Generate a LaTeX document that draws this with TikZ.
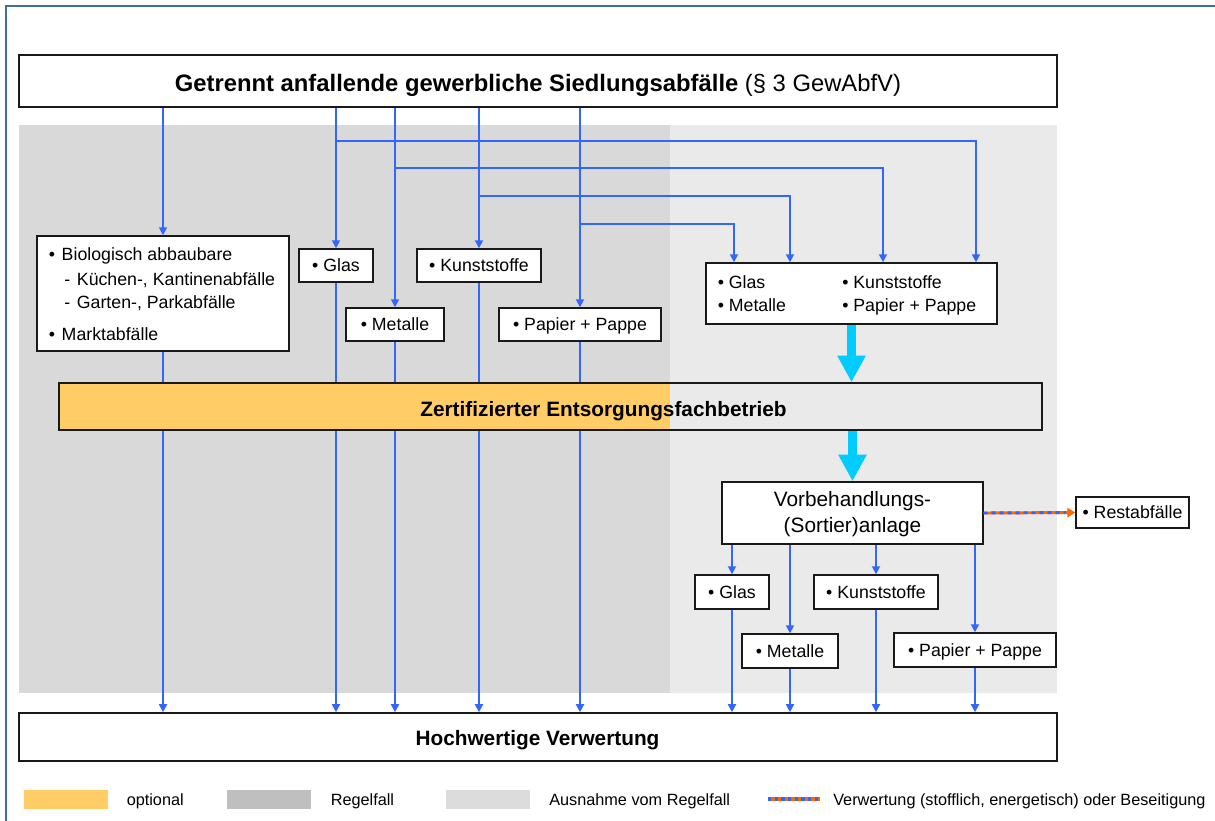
\documentclass[tikz,border=0pt]{standalone}
\usepackage{fontspec}
\setmainfont{Liberation Sans}
\usetikzlibrary{arrows.meta,fit}

\definecolor{framecol}{HTML}{41708C}
\definecolor{flowblue}{HTML}{3366FF}
\definecolor{feedcyan}{HTML}{00CCFF}
\definecolor{optfill}{HTML}{FFCC66}
\definecolor{rulebg}{HTML}{D9D9D9}
\definecolor{exceptbg}{HTML}{EAEAEA}
\definecolor{rulekey}{HTML}{BFBFBF}
\definecolor{exceptkey}{HTML}{DCDCDC}
\definecolor{restorange}{HTML}{FF6600}

\newcommand\fsTitle{\fontsize{17.85}{21}\selectfont}
\newcommand\fsBar{\fontsize{15.6}{19.5}\selectfont}
\newcommand\fsBody{\fontsize{13.3}{16}\selectfont}
\newcommand\fsKey{\fontsize{12.2}{14.5}\selectfont}

\pgfdeclarelayer{bg}
\pgfdeclarelayer{lines}
\pgfsetlayers{bg,lines,main}

\begin{document}
\begin{tikzpicture}[x=0.75pt,y=-0.75pt,
  box/.style={draw=black!90, line width=1.1pt, fill=white, inner sep=0pt},
  bigbox/.style={draw=black!90, line width=1.2pt, fill=white, inner sep=0pt},
  txt/.style={inner sep=0pt, font=\fsBody},
  lbl/.style={inner sep=0pt, font=\fsBody, text height=9.5pt, text depth=0pt},
  keytxt/.style={inner sep=0pt, font=\fsKey, anchor=base west},
  flow/.style={draw=flowblue, line width=1.35pt, -{Triangle[length=6pt,width=6pt]}},
  bigflow/.style={draw=feedcyan, line width=6.3pt, -{Triangle[length=20pt,width=20pt]}},
  restline/.style={draw=restorange, line width=2.2pt, -{Triangle[length=6pt,width=7pt]}},
  reststripe/.style={draw=flowblue, line width=2.2pt, dash pattern=on 3pt off 3pt}
]
\useasboundingbox (0,0) rectangle (1215,821);

% frame and shaded zones
\begin{pgfonlayer}{bg}
  \draw[framecol, line width=1.6pt] (6,821) -- (6,6) -- (1215,6);
  \fill[rulebg] (19,125) rectangle (670,693);
  \fill[exceptbg] (670,125) rectangle (1057,693);
\end{pgfonlayer}

% source and target
\node[bigbox, fit={(19,55)(1057,107)}] (title) {};
\node[inner sep=0pt, font=\fsTitle, anchor=base] (titletext) at (538,91.7)
  {\textbf{Getrennt anfallende gewerbliche Siedlungsabfälle} (§ 3 GewAbfV)};
\node[bigbox, fit={(19,713)(1057,761)}] (hoch) {};
\node[inner sep=0pt, font=\fsBar\bfseries, anchor=base] (hochtext) at (537.5,745) {Hochwertige Verwertung};

% separately collected fractions
\node[box, fit={(37,236)(289,351)}] (bio) {};
\node[txt, anchor=base west] (bio1) at (48.5,260) {\makebox[9.75pt][l]{•}Biologisch abbaubare};
\node[txt, anchor=base west] (bio2) at (64,285) {\makebox[9.5pt][l]{-}Küchen-, Kantinenabfälle};
\node[txt, anchor=base west] (bio3) at (64,308.3) {\makebox[9.5pt][l]{-}Garten-, Parkabfälle};
\node[txt, anchor=base west] (bio4) at (48.5,340.7) {\makebox[9.75pt][l]{•}Marktabfälle};

\node[box, fit={(299,249)(373,282)}] (glasA) {};
\node[lbl] (glasAt) at (glasA) {• Glas};
\node[box, fit={(346,308)(444,341)}] (metA) {};
\node[lbl] (metAt) at (metA) {• Metalle};
\node[box, fit={(417,249)(541,282)}] (kunA) {};
\node[lbl] (kunAt) at (kunA) {• Kunststoffe};
\node[box, fit={(499,308)(661,341)}] (papA) {};
\node[lbl] (papAt) at (papA) {• Papier + Pappe};

% mixed collection
\node[box, fit={(706,263)(997,324)}] (mixA) {};
\node[txt, anchor=base west] (mix1) at (717.5,288.3) {• Glas};
\node[txt, anchor=base west] (mix2) at (717.5,311.7) {• Metalle};
\node[txt, anchor=base west] (mix3) at (842,288.3) {• Kunststoffe};
\node[txt, anchor=base west] (mix4) at (842,311.7) {• Papier + Pappe};

% certified disposal company
\fill[optfill] (59,383) rectangle (670,430);
\node[draw=black!90, line width=1.1pt, inner sep=0pt, fit={(59,383)(1042,430)}] (bar) {};
\node[inner sep=0pt, font=\fsBar\bfseries, anchor=base] (bartext) at (603.5,416.5) {Zertifizierter Entsorgungsfachbetrieb};

% sorting plant and its outputs
\node[box, fit={(722,482)(983,544)}] (vor) {};
\node[inner sep=0pt, font=\fsBar, anchor=base] (vor1) at (852.5,506.7) {Vorbehandlungs-};
\node[inner sep=0pt, font=\fsBar, anchor=base] (vor2) at (852.5,532.7) {(Sortier)anlage};
\node[box, fit={(1076,497)(1189,528)}] (rest) {};
\node[lbl] (restt) at (rest) {• Restabfälle};

\node[box, fit={(695,575)(769,609)}] (glasB) {};
\node[lbl] (glasBt) at (glasB) {• Glas};
\node[box, fit={(742,634)(838,668)}] (metB) {};
\node[lbl] (metBt) at (metB) {• Metalle};
\node[box, fit={(814,575)(938,609)}] (kunB) {};
\node[lbl] (kunBt) at (kunB) {• Kunststoffe};
\node[box, fit={(894,633)(1056,667)}] (papB) {};
\node[lbl] (papBt) at (papB) {• Papier + Pappe};

% branch rows and columns of the mixed box
\coordinate (r1) at (0,141);
\coordinate (r2) at (0,168);
\coordinate (r3) at (0,196);
\coordinate (r4) at (0,224);
\coordinate (cg) at (734,0);
\coordinate (cm) at (790,0);
\coordinate (ck) at (883,0);
\coordinate (cp) at (976,0);

\begin{pgfonlayer}{lines}
  \foreach \n in {bio,glasA,metA,kunA,papA} {
    \draw[flow] (\n.north |- title.south) -- (\n.north);
    \draw[flow] (\n.south) -- (\n.south |- hoch.north);
  }
  \draw[flow] (glasA.north |- r1) -| (mixA.north -| cp);
  \draw[flow] (metA.north |- r2) -| (mixA.north -| ck);
  \draw[flow] (kunA.north |- r3) -| (mixA.north -| cm);
  \draw[flow] (papA.north |- r4) -| (mixA.north -| cg);

  \foreach \n in {glasB,metB,kunB,papB} {
    \draw[flow] (\n.north |- vor.south) -- (\n.north);
    \draw[flow] (\n.south) -- (\n.south |- hoch.north);
  }
\end{pgfonlayer}

\draw[bigflow] (mixA.south) -- (mixA.south |- bar.north);
\draw[bigflow] (vor.north |- bar.south) -- (vor.north);

\draw[restline] (vor.east) -- (rest.west);
\draw[reststripe, shorten >=7pt] (vor.east) -- (rest.west);

% legend
\fill[optfill] (24,790) rectangle (108,809);
\node[keytxt] (keyopt) at (126.5,805) {optional};
\fill[rulekey] (227,790) rectangle (311,809);
\node[keytxt] (keyrule) at (330.5,805) {Regelfall};
\fill[exceptkey] (446,790) rectangle (530,809);
\node[keytxt] (keyexc) at (549,805) {Ausnahme vom Regelfall};
\coordinate (keyA) at (768,799);
\coordinate (keyB) at (820,799);
\draw[restorange, line width=2.8pt] (keyA) -- (keyB);
\draw[flowblue, line width=2.8pt, dash pattern=on 2.5pt off 2.5pt] (keyA) -- (keyB);
\node[keytxt] (keyrest) at (833,805) {Verwertung (stofflich, energetisch) oder Beseitigung};
\end{tikzpicture}
\end{document}
